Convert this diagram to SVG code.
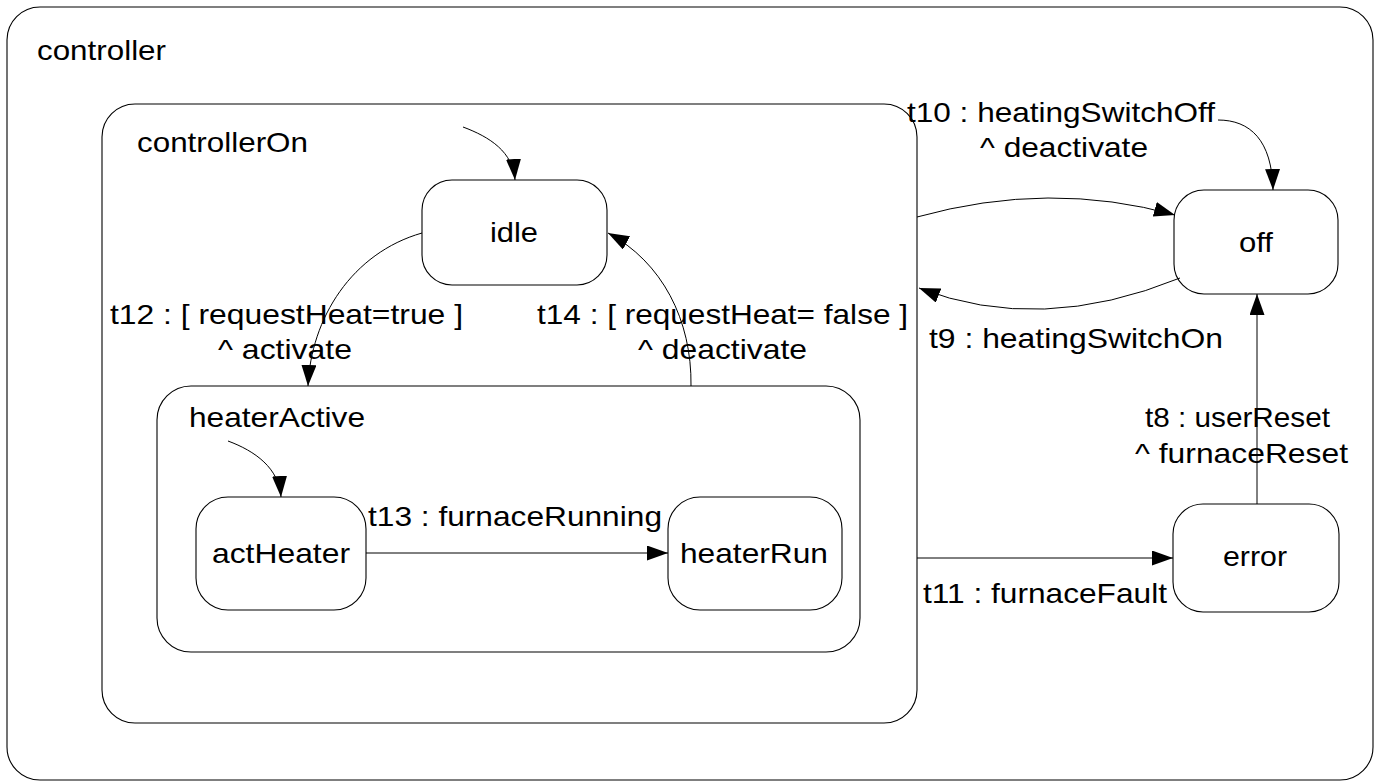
<svg xmlns="http://www.w3.org/2000/svg" width="1379" height="782" viewBox="0 0 1379 782">
  <style>
    .box { fill: #ffffff; stroke: #000000; stroke-width: 1.1; }
    .lbl { font-family: "Liberation Sans", Arial, sans-serif; font-size: 28px; fill: #000000; }
    .edge { fill: none; stroke: #000000; stroke-width: 1; }
  </style>
  <defs>
    <marker id="arrow" markerUnits="userSpaceOnUse" markerWidth="22" markerHeight="16" refX="21" refY="7.5" orient="auto">
      <path d="M0,0 L21,7.5 L0,15 Z" fill="#000000"/>
    </marker>
  </defs>
  <rect width="1379" height="782" fill="#ffffff"/>

  <g id="controller">
    <rect class="box" x="7" y="7" width="1366" height="773" rx="33" ry="33"/>
    <text class="lbl" x="37" y="60" textLength="129" lengthAdjust="spacingAndGlyphs">controller</text>
  </g>
  <g id="controllerOn">
    <rect class="box" x="102" y="104" width="815" height="619" rx="33" ry="33"/>
    <text class="lbl" x="137" y="152" textLength="171" lengthAdjust="spacingAndGlyphs">controllerOn</text>
  </g>
  <g id="idle">
    <rect class="box" x="422" y="180" width="185" height="105" rx="30" ry="30"/>
    <text class="lbl" x="490" y="242" textLength="48" lengthAdjust="spacingAndGlyphs">idle</text>
  </g>
  <g id="heaterActive">
    <rect class="box" x="157" y="386" width="703" height="266" rx="34" ry="34"/>
    <text class="lbl" x="189" y="427" textLength="176" lengthAdjust="spacingAndGlyphs">heaterActive</text>
  </g>
  <g id="actHeater">
    <rect class="box" x="196" y="497" width="170" height="113" rx="32" ry="32"/>
    <text class="lbl" x="212" y="563" textLength="138" lengthAdjust="spacingAndGlyphs">actHeater</text>
  </g>
  <g id="heaterRun">
    <rect class="box" x="668" y="497" width="174" height="113" rx="32" ry="32"/>
    <text class="lbl" x="680" y="563" textLength="148" lengthAdjust="spacingAndGlyphs">heaterRun</text>
  </g>
  <g id="off">
    <rect class="box" x="1174" y="190" width="164" height="104" rx="30" ry="30"/>
    <text class="lbl" x="1239" y="252" textLength="34" lengthAdjust="spacingAndGlyphs">off</text>
  </g>
  <g id="error">
    <rect class="box" x="1173" y="504" width="166" height="108" rx="30" ry="30"/>
    <text class="lbl" x="1223" y="566" textLength="64" lengthAdjust="spacingAndGlyphs">error</text>
  </g>

  <g id="connectors">
    <!-- initial transitions -->
    <path class="edge" d="M463,127 C490,137 513,152 515,180" marker-end="url(#arrow)"/>
    <path class="edge" d="M228,441 C255,451 279,468 281,497" marker-end="url(#arrow)"/>
    <!-- t12 -->
    <path class="edge" d="M422,233 C352,253 311,318 308,386" marker-end="url(#arrow)"/>
    <text class="lbl" x="110" y="324" textLength="353" lengthAdjust="spacingAndGlyphs">t12 : [ requestHeat=true ]</text>
    <text class="lbl" x="218" y="359" textLength="134" lengthAdjust="spacingAndGlyphs">^ activate</text>
    <!-- t14 -->
    <path class="edge" d="M691,386 C692,320 662,262 608,233" marker-end="url(#arrow)"/>
    <text class="lbl" x="537" y="324" textLength="371" lengthAdjust="spacingAndGlyphs">t14 : [ requestHeat= false ]</text>
    <text class="lbl" x="638" y="359" textLength="169" lengthAdjust="spacingAndGlyphs">^ deactivate</text>
    <!-- t13 -->
    <path class="edge" d="M366,553 L668,553" marker-end="url(#arrow)"/>
    <text class="lbl" x="368" y="526" textLength="294" lengthAdjust="spacingAndGlyphs">t13 : furnaceRunning</text>
    <!-- t10 -->
    <path class="edge" d="M917,217 Q1050,180 1175,215" marker-end="url(#arrow)"/>
    <path class="edge" d="M1218,120 C1250,120 1272,140 1273,190" marker-end="url(#arrow)"/>
    <text class="lbl" x="907" y="122" textLength="308" lengthAdjust="spacingAndGlyphs">t10 : heatingSwitchOff</text>
    <text class="lbl" x="980" y="157" textLength="168" lengthAdjust="spacingAndGlyphs">^ deactivate</text>
    <!-- t9 -->
    <path class="edge" d="M1180,278 Q1040,335 919,288" marker-end="url(#arrow)"/>
    <text class="lbl" x="929" y="348" textLength="294" lengthAdjust="spacingAndGlyphs">t9 : heatingSwitchOn</text>
    <!-- t8 -->
    <path class="edge" d="M1257,504 L1257,294" marker-end="url(#arrow)"/>
    <text class="lbl" x="1145" y="427" textLength="185" lengthAdjust="spacingAndGlyphs">t8 : userReset</text>
    <text class="lbl" x="1135" y="463" textLength="213" lengthAdjust="spacingAndGlyphs">^ furnaceReset</text>
    <!-- t11 -->
    <path class="edge" d="M917,558 L1173,558" stroke-width="1.6" marker-end="url(#arrow)"/>
    <text class="lbl" x="923" y="603" textLength="244" lengthAdjust="spacingAndGlyphs">t11 : furnaceFault</text>
  </g>
</svg>
